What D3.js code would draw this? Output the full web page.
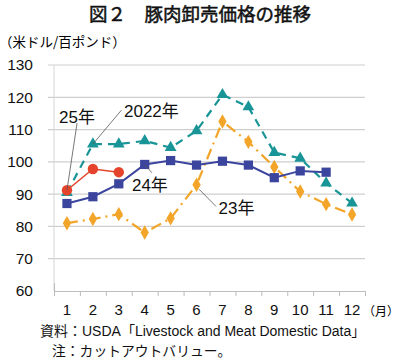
<!DOCTYPE html>
<html>
<head>
<meta charset="utf-8">
<script src="https://cdn.jsdelivr.net/npm/d3@7"></script>
<style>
  body { margin: 0; background: #fff; }
  svg { display: block; font-family: "Liberation Sans", "Noto Sans CJK JP", sans-serif; }
  .jp { font-family: "Noto Sans CJK JP", sans-serif; }
</style>
</head>
<body>
<svg id="chart" width="400" height="361"></svg>
<script>
// data (US$ per 100 lb)
const months = [1, 2, 3, 4, 5, 6, 7, 8, 9, 10, 11, 12];
const yTicks = [60, 70, 80, 90, 100, 110, 120, 130];
const y2022 = [90.5, 105.5, 105.5, 106.5, 104.4, 109.6, 120.8, 117.0, 102.9, 101.1, 93.4, 87.2];
const y2023 = [81.0, 82.3, 83.8, 78.1, 82.5, 92.9, 112.5, 106.2, 98.4, 90.8, 86.9, 83.7];
const y2024 = [87.1, 89.2, 93.2, 99.2, 100.4, 99.0, 100.2, 99.0, 95.1, 97.2, 96.8];
const y2025 = [91.2, 97.8, 96.8];

const svg = d3.select('#chart');
const plotL = 54, plotR = 365, plotT = 65, plotB = 291;

const x = d3.scaleBand().domain(months).range([plotL, plotR]).paddingInner(0).paddingOuter(0);
const bw = x.bandwidth();
const cx = m => x(m) + bw / 2;
// fractional month positions, for annotation placement
const xm = d3.scaleLinear().domain([1, 12]).range([cx(1), cx(12)]);
const y = d3.scaleLinear().domain([60, 130]).range([plotB, plotT]);

// title (regular weight thickened a little with a thin stroke)
svg.append('text')
  .attr('class', 'jp')
  .attr('x', 200).attr('y', 21)
  .attr('text-anchor', 'middle')
  .style('font-size', '18.5px')
  .attr('fill', '#111').attr('stroke', '#111').attr('stroke-width', 0.5)
  .text('図２　豚肉卸売価格の推移');

svg.append('text')
  .attr('class', 'jp')
  .attr('x', -1).attr('y', 47)
  .style('font-size', '13.5px')
  .text('（米ドル/百ポンド）');

// gridlines
svg.append('g')
  .selectAll('line')
  .data(yTicks.slice(1))
  .enter().append('line')
    .attr('x1', plotL - 6).attr('x2', plotR)
    .attr('y1', d => y(d)).attr('y2', d => y(d))
    .attr('stroke', '#cfcfcf').attr('stroke-width', 1.2);

// y axis line
svg.append('line')
  .attr('x1', plotL).attr('x2', plotL)
  .attr('y1', plotT).attr('y2', plotB)
  .attr('stroke', '#d6d6d6').attr('stroke-width', 1);

// y labels
const yAxis = d3.axisLeft(y).tickValues(yTicks).tickSize(0).tickPadding(21);
svg.append('g')
  .attr('transform', `translate(${plotL},0)`)
  .call(yAxis)
  .call(g => g.select('.domain').remove())
  .call(g => g.selectAll('text').style('font-size', '15.5px').attr('fill', '#111')
    .style('font-family', '"Liberation Sans", sans-serif'));

// x baseline with ticks on the band boundaries
const xb = d3.scaleLinear().domain([0, 12]).range([plotL, plotR]);
svg.append('g')
  .attr('transform', `translate(0,${plotB})`)
  .call(d3.axisBottom(xb).tickValues(d3.range(0, 13)).tickFormat('').tickSizeInner(5).tickSizeOuter(0))
  .call(g => g.select('.domain').attr('stroke', '#bdbdbd').attr('stroke-width', 1.2))
  .call(g => g.selectAll('.tick line').attr('stroke', '#bdbdbd'))
  .call(g => g.selectAll('.tick').filter(d => d === 0).select('line').attr('y1', -8));

// x labels
svg.append('g')
  .attr('transform', `translate(0,${plotB})`)
  .call(d3.axisBottom(x).tickSize(0).tickPadding(13))
  .call(g => g.select('.domain').remove())
  .call(g => g.selectAll('text').style('font-size', '15px').attr('fill', '#111')
    .style('font-family', '"Liberation Sans", sans-serif'));

svg.append('text')
  .attr('class', 'jp')
  .attr('x', 363).attr('y', 316)
  .style('font-size', '12px')
  .text('（月）');

// series
const line = d3.line().x((d, i) => cx(months[i])).y(d => y(d));

function series(vals, color, width, dash) {
  svg.append('path')
    .datum(vals)
    .attr('fill', 'none')
    .attr('stroke', color)
    .attr('stroke-width', width)
    .attr('stroke-dasharray', dash)
    .attr('d', line);
}

function markers(vals, color, symbolType, size) {
  svg.append('g')
    .selectAll('path')
    .data(vals)
    .enter().append('path')
      .attr('transform', (d, i) => `translate(${cx(months[i])},${y(d)})`)
      .attr('d', d3.symbol().type(symbolType).size(size))
      .attr('fill', color);
}

const teal = '#1a9597', orange = '#f2a529', navy = '#3b459e', red = '#e5432b';

series(y2023, orange, 2.2, '11,5,2,5');
markers(y2023, orange, d3.symbolDiamond, 60);

series(y2022, teal, 2.2, '8,6');
markers(y2022, teal, d3.symbolTriangle, 60);

series(y2024, navy, 2, null);
markers(y2024, navy, d3.symbolSquare, 85);

series(y2025, red, 1.5, null);
markers(y2025, red, d3.symbolCircle, 85);

// annotation labels with leader lines (month/value positions)
const notes = [
  {text: '25年', tm: 1.39, tv: 113.9, from: [1.0, 91.2], to: [1.39, 112.0], anchor: 'middle'},
  {text: '2022年', tm: 3.2, tv: 115.9, from: [2.0, 105.5], to: [3.1, 116.0], anchor: 'start'},
  {text: '24年', tm: 4.2, tv: 92.8, from: [4.0, 99.2], to: [4.28, 96.6], anchor: 'middle'},
  {text: '23年', tm: 6.85, tv: 85.8, from: [6.1, 91.5], to: [6.75, 86.2], anchor: 'start'}
];

svg.append('g')
  .selectAll('line')
  .data(notes)
  .enter().append('line')
    .attr('x1', d => xm(d.from[0])).attr('y1', d => y(d.from[1]))
    .attr('x2', d => xm(d.to[0])).attr('y2', d => y(d.to[1]))
    .attr('stroke', '#555').attr('stroke-width', 0.8);

svg.append('g')
  .selectAll('text')
  .data(notes)
  .enter().append('text')
    .attr('x', d => xm(d.tm)).attr('y', d => y(d.tv))
    .attr('dy', '0.36em')
    .attr('text-anchor', d => d.anchor)
    .style('font-size', '17px')
    .attr('fill', '#111')
    .text(d => d.text);

// source notes
svg.append('text')
  .attr('x', 40).attr('y', 336)
  .style('font-size', '14px')
  .attr('fill', '#111')
  .text('資料：USDA「Livestock and Meat Domestic Data」');

svg.append('text')
  .attr('class', 'jp')
  .attr('x', 52).attr('y', 356)
  .style('font-size', '13.8px')
  .attr('fill', '#111')
  .text('注：カットアウトバリュー。');
</script>
</body>
</html>
